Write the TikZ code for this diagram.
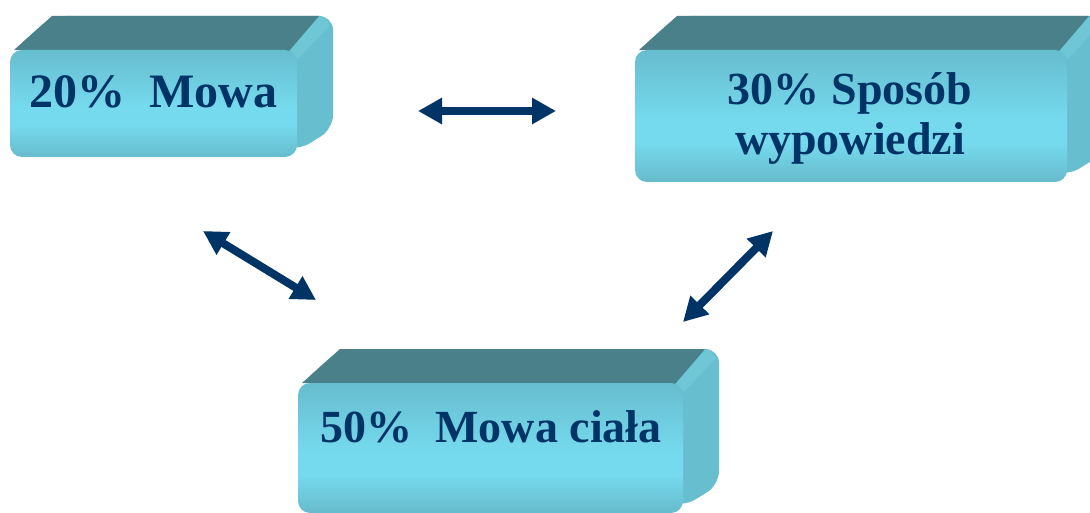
\documentclass[tikz,border=0pt]{standalone}
\usepackage{fontspec}
\setmainfont{Liberation Serif}
\usetikzlibrary{arrows.meta,calc,backgrounds}
\definecolor{topface}{HTML}{4A808A}
\definecolor{sideface}{HTML}{67BECE}
\definecolor{sidelight}{HTML}{6FC6D5}
\definecolor{ftop}{HTML}{66BDCE}
\definecolor{fmid}{HTML}{76DAEE}
\definecolor{fbot}{HTML}{66BBCB}
\definecolor{navy}{HTML}{003366}
\pgfdeclareverticalshading{frontshade}{100bp}{color(0bp)=(fbot); color(25bp)=(fbot); color(40bp)=(fmid); color(48bp)=(fmid); color(75bp)=(ftop); color(100bp)=(ftop)}
\begin{document}
\begin{tikzpicture}[x=1pt,y=-1pt,
  frontface/.style={rectangle, rounded corners=12pt, shading=frontshade, inner sep=0pt, outer sep=0pt},
  sidestyle/.style={fill=sideface, rounded corners=14pt},
  topstyle/.style={fill=topface},
  bevel/.style={fill=sidelight},
  lbl/.style={text=navy, inner sep=0pt, anchor=base, font=\bfseries\fontsize{46}{50}\selectfont},
  link/.style={navy, line width=8pt, {Triangle[length=24pt,width=25pt]}-{Triangle[length=24pt,width=25pt]}}]
\useasboundingbox (0,0) rectangle (1090,513);
\clip (0,0) rectangle (1090,513);
\def\dx{36}
\def\dy{-34}
% front faces
\node[frontface, minimum width=287pt, minimum height=107pt] (b1) at (153.5,103.5) {};
\node[frontface, minimum width=432pt, minimum height=132pt] (b2) at (851,116) {};
\node[frontface, minimum width=385pt, minimum height=130pt] (b3) at (490.5,448) {};
% back faces
\begin{scope}[on background layer]
\foreach \b in {b1,b2,b3}{
  \fill[sidestyle] ($(\b.north west)+(4,0)$) -- ($(\b.north west)+(6+\dx,\dy)$) -- ($(\b.north east)+(\dx,\dy)$) -- ($(\b.south east)+(\dx,\dy+6)$) -- ($(\b.south east)+(0,-6)$) -- cycle;
  \fill[bevel] ($(\b.north east)+(-8,2)$) -- ($(\b.north east)+(\dx-16,\dy)$) -- ($(\b.north east)+(\dx-8,\dy+2)$) -- ($(\b.north east)+(\dx-3,\dy+9)$) -- ($(\b.north east)+(1,9)$) -- cycle;
  \fill[topstyle] ($(\b.north west)+(4,0)$) -- ($(\b.north west)+(6+\dx,\dy)$) -- ($(\b.north east)+(\dx-14,\dy)$) -- ($(\b.north east)+(-8,1)$) -- cycle;
}
\end{scope}
% labels
\node[lbl, font=\bfseries\fontsize{48}{50}\selectfont] (t1) at (153.5,108) {20\%\ \ Mowa};
\node[lbl] (t2a) at (850,105) {30\% Sposób};
\node[lbl] (t2b) at (850,155) {wypowiedzi};
\node[lbl] (t3) at (491,442) {50\%\ \ Mowa ciała};
% connectors
\coordinate (h1) at (418,111);
\coordinate (h2) at (556,111);
\coordinate (l1) at (203,231);
\coordinate (l2) at (316,300);
\coordinate (r1) at (773,231);
\coordinate (r2) at (683,322);
\draw[link] (h1) -- (h2);
\draw[link] (l1) -- (l2);
\draw[link] (r1) -- (r2);
\end{tikzpicture}
\end{document}
